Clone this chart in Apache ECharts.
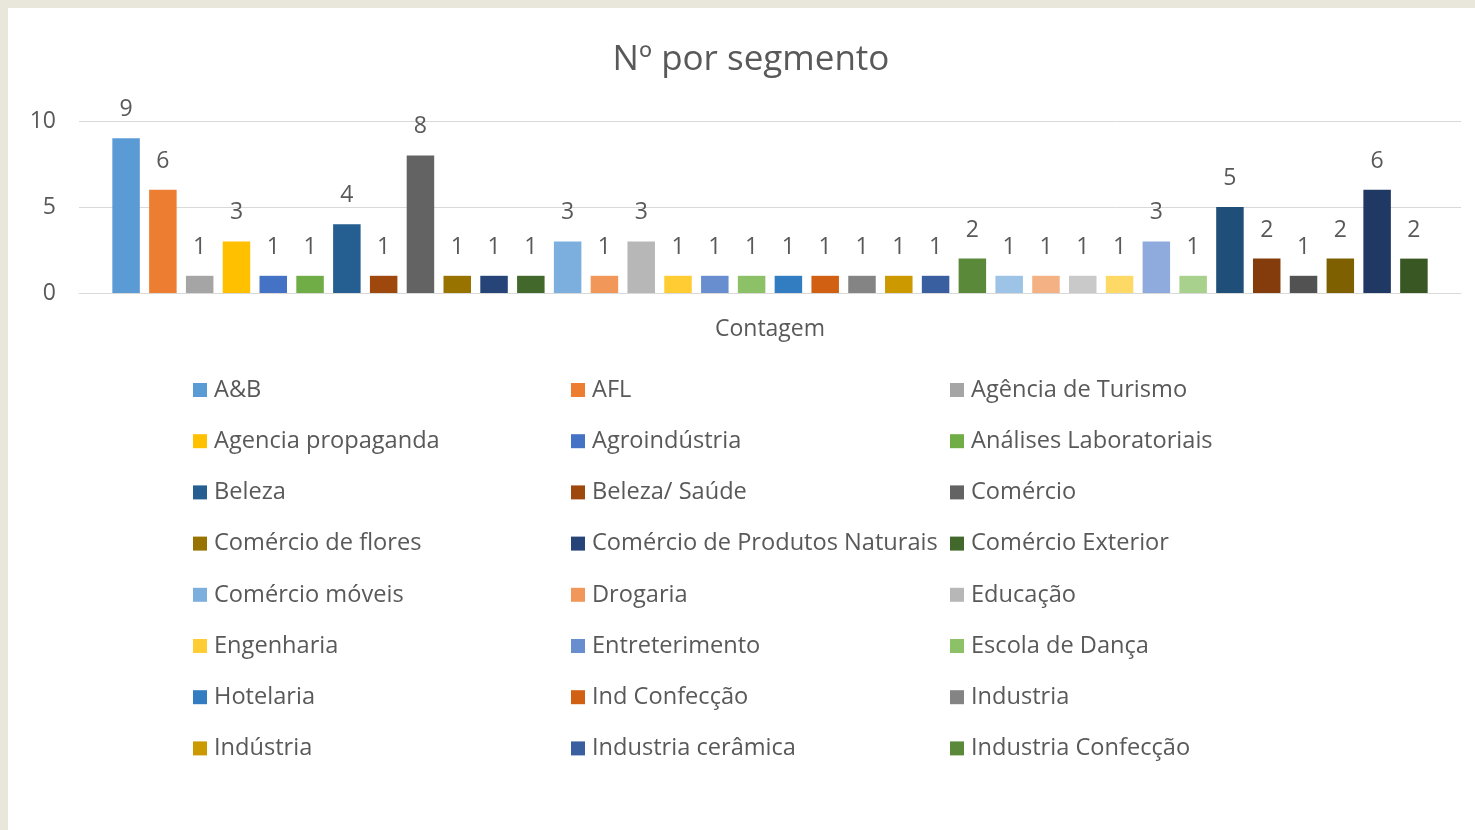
<!DOCTYPE html>
<html>
<head>
<meta charset="utf-8">
<script src="https://cdn.jsdelivr.net/npm/echarts@6/dist/echarts.min.js"></script>
<style>
  html, body { margin: 0; padding: 0; width: 1475px; height: 830px; overflow: hidden; background: #E9E6DC; }
  #panel { position: absolute; left: 8px; top: 8px; width: 1467px; height: 822px; background: #ffffff; }
  #chart { position: absolute; left: 0; top: 0; width: 1475px; height: 830px; }
</style>
</head>
<body>
<div id="panel"></div>
<div id="chart"></div>
<script>
// ---- data ----
const titleText = 'Nº por segmento';
const categories = ['Contagem'];
const segments = [
  'A&B', 'AFL', 'Agência de Turismo',
  'Agencia propaganda', 'Agroindústria', 'Análises Laboratoriais',
  'Beleza', 'Beleza/ Saúde', 'Comércio',
  'Comércio de flores', 'Comércio de Produtos Naturais', 'Comércio Exterior',
  'Comércio móveis', 'Drogaria', 'Educação',
  'Engenharia', 'Entreterimento', 'Escola de Dança',
  'Hotelaria', 'Ind Confecção', 'Industria',
  'Indústria', 'Industria cerâmica', 'Industria Confecção',
  'Segmento 25', 'Segmento 26', 'Segmento 27',
  'Segmento 28', 'Segmento 29', 'Segmento 30',
  'Segmento 31', 'Segmento 32', 'Segmento 33',
  'Segmento 34', 'Segmento 35', 'Segmento 36'
];
const counts = [
  9, 6, 1, 3, 1, 1, 4, 1, 8, 1, 1, 1,
  3, 1, 3, 1, 1, 1, 1, 1, 1, 1, 1, 2,
  1, 1, 1, 1, 3, 1, 5, 2, 1, 2, 6, 2
];
const visibleLegendCount = 24;
const yTicks = [0, 5, 10];

// ---- style ----
const palette = [
  '#5B9BD5', '#ED7D31', '#A5A5A5', '#FFC000', '#4472C4', '#70AD47',
  '#255E91', '#9E480E', '#636363', '#997300', '#264478', '#43682B',
  '#7CAFDD', '#F1975A', '#B7B7B7', '#FFCD33', '#698ED0', '#8CC168',
  '#327DC2', '#D26012', '#848484', '#CC9A00', '#3A5FA0', '#5A8A39',
  '#9DC3E6', '#F4B183', '#C9C9C9', '#FFD966', '#8FAADC', '#A9D18E',
  '#1F4E79', '#843C0C', '#525252', '#7F6000', '#203864', '#385723'
];
const textColor = '#595959';
const fontFamily = '"Open Sans", "Noto Sans", sans-serif';

const chart = echarts.init(document.getElementById('chart'), null, { renderer: 'canvas' });

const series = segments.map((name, i) => ({
  name: name,
  type: 'bar',
  data: [counts[i]],
  barWidth: 27.5,
  barGap: '33.8%',
  itemStyle: { color: palette[i] },
  label: {
    show: true,
    position: 'top',
    distance: 17,
    color: textColor,
    fontSize: 23,
    fontFamily: fontFamily
  },
  emphasis: { disabled: true }
}));

const legendCols = [[], [], []];
segments.slice(0, visibleLegendCount).forEach((n, i) => legendCols[i % 3].push(n));
const colLefts = [193, 571, 950];
const legends = legendCols.map((col, c) => ({
  data: col,
  orient: 'vertical',
  left: colLefts[c],
  top: 376,
  padding: 0,
  itemWidth: 14,
  itemHeight: 14,
  itemGap: 23.2,
  icon: 'rect',
  selectedMode: false,
  textStyle: { color: textColor, fontSize: 23.6, fontFamily: fontFamily, lineHeight: 28, padding: [0, 0, 0, 2] }
}));

chart.setOption({
  backgroundColor: 'transparent',
  animation: false,
  title: {
    text: titleText,
    left: 751,
    textAlign: 'center',
    top: 43,
    padding: 0,
    textStyle: { color: textColor, fontSize: 35, fontWeight: 'normal', fontFamily: fontFamily }
  },
  legend: legends,
  grid: { left: 79, right: 14, top: 121, height: 172, containLabel: false },
  xAxis: {
    type: 'category',
    data: categories,
    name: categories[0],
    nameLocation: 'middle',
    nameGap: 25,
    nameTextStyle: { color: textColor, fontSize: 23, fontFamily: fontFamily },
    axisLine: { lineStyle: { color: '#D9D9D9', width: 1 } },
    axisTick: { show: false },
    axisLabel: { show: false }
  },
  yAxis: {
    type: 'value',
    min: yTicks[0],
    max: yTicks[yTicks.length - 1],
    interval: yTicks[1] - yTicks[0],
    axisLine: { show: false },
    axisTick: { show: false },
    axisLabel: { color: textColor, fontSize: 23, fontFamily: fontFamily, margin: 23 },
    splitLine: { lineStyle: { color: '#D9D9D9', width: 1 } }
  },
  series: series
});
</script>
</body>
</html>
